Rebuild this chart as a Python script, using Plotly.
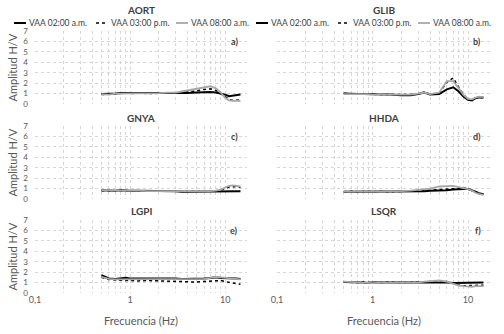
import plotly.graph_objects as go

# ---------------- data ----------------
freq = [0.5, 0.6, 0.7, 0.8, 0.9, 1, 1.2, 1.5, 2, 2.5, 3, 3.5, 4, 5, 6, 7, 8, 9, 10, 11, 12, 13, 14.5]
series_names = ["VAA 02:00 a.m.", "VAA 03:00 p.m.", "VAA 08:00 a.m."]
stations = ["AORT", "GLIB", "GNYA", "HHDA", "LGPI", "LSQR"]
panel_tags = ["a)", "b)", "c)", "d)", "e)", "f)"]

aort_0200 = [0.95, 0.95, 1.0, 1.05, 1.05, 1.0, 1.0, 1.05, 1.0, 1.0, 1.0, 1.0, 1.05, 1.1, 1.15, 1.15, 1.1, 1.0, 0.9, 0.75, 0.8, 0.9, 0.9]
aort_0300 = [0.9, 0.95, 1.0, 1.0, 1.05, 1.0, 1.05, 1.0, 1.0, 1.05, 1.05, 1.1, 1.15, 1.25, 1.4, 1.45, 1.3, 1.0, 0.7, 0.45, 0.35, 0.35, 0.4]
aort_0800 = [0.95, 0.9, 1.0, 1.0, 1.05, 1.0, 1.0, 1.05, 1.05, 1.1, 1.1, 1.2, 1.3, 1.5, 1.65, 1.7, 1.5, 1.1, 0.6, 0.35, 0.3, 0.3, 0.3]

glib_0200 = [1.0, 0.95, 0.95, 0.95, 0.95, 0.95, 0.95, 0.9, 0.85, 0.85, 0.95, 1.1, 0.9, 0.95, 1.4, 1.6, 1.2, 0.7, 0.4, 0.35, 0.55, 0.65, 0.6]
glib_0300 = [1.0, 1.0, 0.95, 1.0, 0.95, 0.95, 0.9, 0.9, 0.85, 0.9, 1.0, 1.15, 0.95, 1.05, 2.1, 2.5, 1.6, 0.9, 0.45, 0.4, 0.6, 0.65, 0.65]
glib_0800 = [0.95, 0.95, 1.0, 0.95, 0.95, 0.9, 0.95, 0.9, 0.9, 0.9, 1.0, 1.1, 0.95, 1.1, 2.2, 2.2, 1.5, 0.85, 0.5, 0.45, 0.6, 0.7, 0.65]

gnya_0200 = [0.85, 0.8, 0.8, 0.85, 0.8, 0.8, 0.8, 0.8, 0.75, 0.75, 0.75, 0.7, 0.7, 0.7, 0.7, 0.7, 0.75, 0.75, 0.75, 0.75, 0.75, 0.75, 0.75]
gnya_0300 = [0.8, 0.8, 0.85, 0.8, 0.85, 0.8, 0.8, 0.8, 0.75, 0.75, 0.7, 0.7, 0.7, 0.7, 0.75, 0.75, 0.75, 0.85, 1.0, 1.15, 1.15, 1.2, 1.1]
gnya_0800 = [0.85, 0.8, 0.8, 0.8, 0.8, 0.85, 0.8, 0.75, 0.75, 0.7, 0.7, 0.7, 0.7, 0.7, 0.7, 0.75, 0.8, 0.9, 1.1, 1.25, 1.3, 1.25, 1.2]

hhda_0200 = [0.7, 0.7, 0.7, 0.75, 0.75, 0.75, 0.75, 0.75, 0.7, 0.7, 0.75, 0.75, 0.8, 0.8, 0.85, 0.9, 0.95, 0.95, 0.95, 0.85, 0.7, 0.55, 0.45]
hhda_0300 = [0.7, 0.75, 0.7, 0.75, 0.75, 0.7, 0.75, 0.7, 0.7, 0.75, 0.8, 0.8, 0.85, 0.9, 0.95, 1.0, 1.0, 1.05, 1.0, 0.85, 0.65, 0.5, 0.45]
hhda_0800 = [0.7, 0.7, 0.75, 0.75, 0.7, 0.75, 0.75, 0.75, 0.75, 0.8, 0.85, 0.9, 1.0, 1.2, 1.25, 1.25, 1.15, 1.05, 0.95, 0.8, 0.6, 0.5, 0.4]

lgpi_0200 = [1.7, 1.4, 1.35, 1.4, 1.45, 1.4, 1.4, 1.45, 1.4, 1.4, 1.4, 1.35, 1.35, 1.4, 1.4, 1.45, 1.5, 1.45, 1.45, 1.4, 1.4, 1.4, 1.35]
lgpi_0300 = [1.5, 1.3, 1.25, 1.2, 1.2, 1.2, 1.15, 1.2, 1.15, 1.1, 1.1, 1.05, 1.05, 1.05, 1.1, 1.15, 1.2, 1.2, 1.1, 1.0, 0.95, 0.9, 0.85]
lgpi_0800 = [1.55, 1.35, 1.3, 1.3, 1.3, 1.3, 1.3, 1.35, 1.3, 1.3, 1.3, 1.3, 1.3, 1.35, 1.35, 1.45, 1.55, 1.5, 1.45, 1.4, 1.35, 1.3, 1.3]

lsqr_0200 = [1.05, 1.05, 1.0, 1.0, 0.95, 1.0, 1.0, 1.0, 1.05, 1.0, 1.0, 1.0, 1.05, 1.05, 1.0, 0.95, 0.95, 0.95, 0.95, 1.0, 1.0, 1.0, 1.0]
lsqr_0300 = [1.05, 1.0, 1.0, 1.05, 1.0, 1.0, 1.0, 1.05, 1.0, 1.0, 1.0, 1.05, 1.1, 1.15, 1.1, 0.9, 0.75, 0.7, 0.7, 0.7, 0.75, 0.75, 0.75]
lsqr_0800 = [1.1, 1.05, 1.0, 1.0, 1.0, 0.95, 1.0, 1.0, 1.05, 1.0, 1.0, 1.1, 1.15, 1.2, 1.1, 0.9, 0.7, 0.65, 0.6, 0.6, 0.65, 0.65, 0.65]

x_tickvals = [0.1, 0.2, 0.3, 0.4, 0.5, 0.6, 0.7, 0.8, 0.9, 1, 2, 3, 4, 5, 6, 7, 8, 9, 10, 20]
x_ticktext = ["0,1", "", "", "", "", "", "", "", "", "1", "", "", "", "", "", "", "", "", "10", ""]
y_tickvals = [0, 1, 2, 3, 4, 5, 6, 7]

panel_series = [
    (aort_0200, aort_0300, aort_0800),
    (glib_0200, glib_0300, glib_0800),
    (gnya_0200, gnya_0300, gnya_0800),
    (hhda_0200, hhda_0300, hhda_0800),
    (lgpi_0200, lgpi_0300, lgpi_0800),
    (lsqr_0200, lsqr_0300, lsqr_0800),
]

# ---------------- layout helpers ----------------
W, H = 504, 334
FONT = "Lato"
col_px = [(35, 247), (277, 490)]
row_px = [(31, 104), (126, 199), (220, 293)]
title_px = [10, 118, 211]
legend_y_px = 23

styles = [
    dict(color="#000000", width=2.0, dash="solid"),
    dict(color="#000000", width=1.5, dash="dot"),
    dict(color="#a8a8a8", width=1.8, dash="solid"),
]

def px_x(p):
    return p / W

def px_y(p):
    return 1 - p / H

fig = go.Figure()
layout = dict(
    width=W, height=H,
    margin=dict(l=0, r=0, t=0, b=0, autoexpand=False),
    paper_bgcolor="white", plot_bgcolor="white",
    showlegend=False,
    font=dict(family=FONT, color="#595959"),
    separators=",.",
)

annotations = []
shapes = []
grid_col = "#d6d6d6"

for i, st in enumerate(stations):
    r, c = divmod(i, 2)
    k = i + 1
    xs = "" if k == 1 else str(k)
    for j, ser in enumerate(panel_series[i]):
        fig.add_trace(go.Scatter(
            x=freq, y=ser, mode="lines", name=series_names[j],
            line=styles[j], xaxis="x" + xs, yaxis="y" + xs,
            showlegend=False, hoverinfo="skip",
        ))
    layout["xaxis" + xs] = dict(
        type="log", range=[-1, 1.23],
        domain=[px_x(col_px[c][0]), px_x(col_px[c][1])],
        anchor="y" + xs,
        tickmode="array", tickvals=x_tickvals, ticktext=x_ticktext,
        showticklabels=(r == 2), ticks="",
        tickfont=dict(size=9, color="#595959", family=FONT),
        showgrid=True, gridcolor=grid_col, griddash="dot", gridwidth=1,
        zeroline=False, showline=False, automargin=False,
    )
    layout["yaxis" + xs] = dict(
        range=[0, 7],
        domain=[px_y(row_px[r][1]), px_y(row_px[r][0])],
        anchor="x" + xs,
        tickmode="array", tickvals=y_tickvals,
        showticklabels=(c == 0), ticks="", ticklabelstandoff=6,
        tickfont=dict(size=8, color="#595959", family=FONT),
        showgrid=True, gridcolor=grid_col, griddash="dot", gridwidth=1,
        zeroline=False, showline=False, automargin=False,
    )
    # station title
    annotations.append(dict(
        text="<b>" + st + "</b>", xref="x" + xs + " domain", x=0.5,
        yref="paper", y=px_y(title_px[r]), yanchor="middle", xanchor="center",
        showarrow=False, font=dict(size=10, color="#404040", family=FONT),
    ))
    # panel tag
    annotations.append(dict(
        text="<b>" + panel_tags[i] + "</b>", xref="x" + xs + " domain", x=0.965,
        yref="y" + xs, y=6, xanchor="right", yanchor="middle",
        showarrow=False, font=dict(size=9, color="#404040", family=FONT),
    ))
    # y-axis title on left column
    if c == 0:
        annotations.append(dict(
            text="Amplitud H/V", xref="paper", x=px_x(12), yref="paper",
            y=px_y((row_px[r][0] + row_px[r][1]) / 2), textangle=-90,
            xanchor="center", yanchor="middle", showarrow=False,
            font=dict(size=11, color="#595959", family=FONT),
        ))
    # x-axis title on bottom row
    if r == 2:
        annotations.append(dict(
            text="Frecuencia (Hz)", xref="x" + xs + " domain", x=0.5,
            yref="paper", y=px_y(320), xanchor="center", yanchor="middle",
            showarrow=False, font=dict(size=11, color="#595959", family=FONT),
        ))

# legends above the two top panels (decorative keys)
legend_offsets = [-21, 61, 141]
sample_len = 12
for c in range(2):
    base = col_px[c][0]
    for j, name in enumerate(series_names):
        x0 = base + legend_offsets[j]
        shapes.append(dict(
            type="line", xref="paper", yref="paper",
            x0=px_x(x0), x1=px_x(x0 + sample_len),
            y0=px_y(legend_y_px), y1=px_y(legend_y_px),
            line=dict(color=styles[j]["color"], width=styles[j]["width"], dash=styles[j]["dash"]),
        ))
        annotations.append(dict(
            text=name, xref="paper", x=px_x(x0 + sample_len + 1), yref="paper",
            y=px_y(legend_y_px), xanchor="left", yanchor="middle", showarrow=False,
            font=dict(size=8.5, color="#404040", family=FONT),
        ))

layout["annotations"] = annotations
layout["shapes"] = shapes
fig.update_layout(**layout)
fig.write_html(
    "out.html",
    config={"displayModeBar": False},
    post_script="document.body.style.margin='0';document.body.style.overflow='hidden';",
)
